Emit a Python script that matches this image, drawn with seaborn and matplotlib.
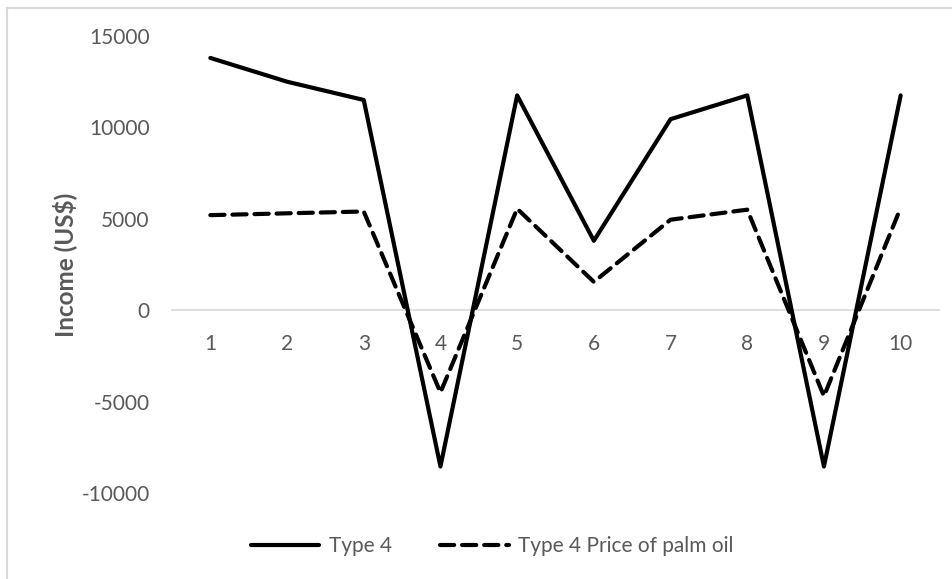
import matplotlib
matplotlib.use("Agg")
import matplotlib.pyplot as plt
from matplotlib.lines import Line2D
import seaborn as sns
import pandas as pd

periods = [1, 2, 3, 4, 5, 6, 7, 8, 9, 10]
type4 = [13800, 12500, 11500, -8550, 11750, 3800, 10450, 11750, -8550, 11750]
type4_palm = [5200, 5300, 5400, -4500, 5550, 1550, 4950, 5500, -4700, 5600]
series_names = ["Type 4", "Type 4 Price of palm oil"]
y_ticks = [-10000, -5000, 0, 5000, 10000, 15000]

df = pd.DataFrame({
    "period": periods * 2,
    "income": type4 + type4_palm,
    "series": [series_names[0]] * len(periods) + [series_names[1]] * len(periods),
})

sns.set_theme(style="white")
plt.rcParams["font.family"] = ["Lato", "DejaVu Sans"]
GRAY = "#595959"

fig = plt.figure(figsize=(9.53, 5.79), dpi=100)
ax = fig.add_axes([172 / 953, 1 - 493 / 579, (939 - 172) / 953, (493 - 36) / 579])

sns.lineplot(
    data=df, x="period", y="income", style="series",
    dashes={series_names[0]: "", series_names[1]: (3.4, 1.9)},
    color="black", linewidth=3.0, ax=ax, legend=False,
    dash_capstyle="round", solid_capstyle="round", solid_joinstyle="round",
)
for ln in ax.get_lines():
    ln.set_dash_capstyle("round")

ax.set_xlim(0.5, 10.5)
ax.set_ylim(-10000, 15000)
ax.set_xticks(periods)
ax.set_xticklabels([str(p) for p in periods])
ax.set_yticks(y_ticks)
ax.set_yticklabels([str(v) for v in y_ticks])

for s in ["left", "right", "top"]:
    ax.spines[s].set_visible(False)
ax.spines["bottom"].set_position(("data", 0))
ax.spines["bottom"].set_color("#d9d9d9")
ax.spines["bottom"].set_linewidth(1.2)
ax.spines["bottom"].set_zorder(0)

ax.tick_params(axis="x", length=0, pad=17, labelsize=15, labelcolor=GRAY)
ax.tick_params(axis="y", length=0, pad=16, labelsize=15, labelcolor=GRAY)
ax.set_xlabel("")
ax.set_ylabel("Income (US$)", fontsize=17.5, fontweight="bold", color=GRAY)
ax.yaxis.set_label_coords(-95 / 767, 0.5)
ax.grid(False)

handles = [
    Line2D([], [], color="black", linewidth=3.0, solid_capstyle="round"),
    Line2D([], [], color="black", linewidth=3.0, linestyle=(0, (3.4, 1.9)), dash_capstyle="round"),
]
leg = fig.legend(
    handles, series_names, loc="center", bbox_to_anchor=(492 / 953, 1 - 546 / 579),
    ncol=2, frameon=False, fontsize=15, handlelength=3.3, handletextpad=0.45,
    columnspacing=2.3, labelcolor=GRAY,
)

border_c = "#d9d9d9"
fig.add_artist(Line2D([7.5 / 953, 1.0], [1 - 7.5 / 579, 1 - 7.5 / 579], transform=fig.transFigure, color=border_c, linewidth=1.5))
fig.add_artist(Line2D([7.5 / 953, 7.5 / 953], [0.0, 1 - 7.5 / 579], transform=fig.transFigure, color=border_c, linewidth=1.5))

fig.savefig("out.png", dpi=100, facecolor="white")
